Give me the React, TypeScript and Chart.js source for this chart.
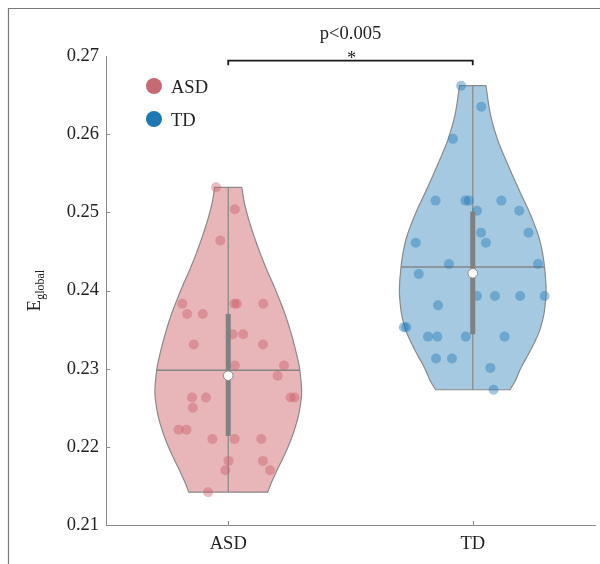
import React, { useEffect, useRef } from 'react';
import { Chart, registerables } from 'chart.js';

Chart.register(...registerables);

// ---------------- data ----------------
const CATEGORIES = ['ASD', 'TD'];
const Y_TICKS = [0.21, 0.22, 0.23, 0.24, 0.25, 0.26, 0.27];
const TITLE = 'p<0.005';
const SIG_MARK = '*';

// jittered scatter points: x offset from group centre (category units), value
const ASD_JITTER = [-0.05, 0.027, -0.0325, -0.188, -0.168, -0.104, 0.025, 0.035, 0.1435, 0.018, 0.061, -0.141, 0.142, 0.027, 0.228, 0.202, -0.148, -0.091, -0.145, 0.255, 0.271, -0.203, -0.171, -0.065, 0.026, 0.135, 0.001, 0.142, -0.012, 0.171, -0.0825];
const ASD_VALUES = [0.2532, 0.2504, 0.2464, 0.2383, 0.237, 0.237, 0.2383, 0.2383, 0.2383, 0.2344, 0.2344, 0.2331, 0.2331, 0.2304, 0.2304, 0.2291, 0.2263, 0.2263, 0.225, 0.2263, 0.2263, 0.2222, 0.2222, 0.221, 0.221, 0.221, 0.2182, 0.2182, 0.217, 0.217, 0.2142];

const TD_JITTER = [-0.0475, 0.035, -0.081, -0.152, -0.03, -0.016, 0.117, 0.0175, 0.19, 0.034, 0.228, 0.054, -0.233, -0.0975, 0.267, -0.221, 0.0175, 0.091, 0.194, 0.294, -0.142, -0.282, -0.272, -0.183, -0.145, -0.0285, 0.13, -0.15, -0.085, 0.072, 0.085];
const TD_VALUES = [0.2662, 0.2635, 0.2594, 0.2515, 0.2515, 0.2515, 0.2515, 0.2502, 0.2502, 0.2474, 0.2474, 0.2461, 0.2461, 0.2434, 0.2434, 0.2421, 0.2393, 0.2393, 0.2393, 0.2393, 0.2381, 0.2353, 0.2353, 0.2341, 0.2341, 0.2341, 0.2341, 0.2313, 0.2313, 0.2301, 0.2273];

// violin outline: value levels (top to bottom) and relative density (1 = widest)
const ASD_VIOLIN_LEVELS = [0.2532, 0.2515, 0.2498, 0.2464, 0.2434, 0.24, 0.2364, 0.2321, 0.2298, 0.227, 0.2247, 0.2221, 0.2196, 0.217, 0.2153, 0.2142];
const ASD_VIOLIN_DENSITY = [0.185, 0.214, 0.257, 0.372, 0.492, 0.648, 0.795, 0.925, 0.976, 1.0, 0.972, 0.9, 0.797, 0.665, 0.583, 0.538];
const TD_VIOLIN_LEVELS = [0.2662, 0.2628, 0.2594, 0.2565, 0.253, 0.2494, 0.246, 0.243, 0.24, 0.2377, 0.2352, 0.2326, 0.23, 0.2284, 0.2273];
const TD_VIOLIN_DENSITY = [0.18, 0.235, 0.335, 0.46, 0.625, 0.8, 0.925, 0.978, 1.0, 0.982, 0.923, 0.801, 0.652, 0.577, 0.507];

// summary statistics: [mean, median, q1, q3]
const ASD_STATS = [0.2298, 0.2291, 0.2214, 0.237];
const TD_STATS = [0.243, 0.2422, 0.2344, 0.2501];

// ---------------- styles ----------------
const FONT = '"Liberation Serif", "Times New Roman", serif';
const FONT_SIZE = 18.5;
const TEXT_COLOR = '#222222';
const AXIS_COLOR = '#8a8a8a';
const VIOLIN_HALF_WIDTH = 0.3; // x units at density 1
const BRACKET_VALUE = 0.2694;

const GROUPS = [
  {
    label: 'ASD', center: 0, jitter: ASD_JITTER, values: ASD_VALUES,
    levels: ASD_VIOLIN_LEVELS, density: ASD_VIOLIN_DENSITY, stats: ASD_STATS,
    fill: '#e8b5b9', point: 'rgba(200, 92, 106, 0.42)', legend: '#c76a74',
  },
  {
    label: 'TD', center: 1, jitter: TD_JITTER, values: TD_VALUES,
    levels: TD_VIOLIN_LEVELS, density: TD_VIOLIN_DENSITY, stats: TD_STATS,
    fill: '#a5c9e1', point: 'rgba(31, 119, 180, 0.42)', legend: '#1f77b4',
  },
];

// monotone cubic (Fritsch-Carlson) interpolation of density over value
function makeMonotone(xsIn: number[], ysIn: number[]) {
  const idx = xsIn.map((_, i) => i).sort((a, b) => xsIn[a] - xsIn[b]);
  const xs = idx.map((i) => xsIn[i]);
  const ys = idx.map((i) => ysIn[i]);
  const n = xs.length;
  const d: number[] = [];
  for (let i = 0; i < n - 1; i++) d.push((ys[i + 1] - ys[i]) / (xs[i + 1] - xs[i]));
  const m: number[] = new Array(n);
  m[0] = d[0];
  m[n - 1] = d[n - 2];
  for (let i = 1; i < n - 1; i++) {
    if (d[i - 1] * d[i] <= 0) m[i] = 0;
    else {
      const w1 = 2 * (xs[i + 1] - xs[i]) + (xs[i] - xs[i - 1]);
      const w2 = (xs[i + 1] - xs[i]) + 2 * (xs[i] - xs[i - 1]);
      m[i] = (w1 + w2) / (w1 / d[i - 1] + w2 / d[i]);
    }
  }
  return (x: number) => {
    if (x <= xs[0]) return ys[0];
    if (x >= xs[n - 1]) return ys[n - 1];
    let i = 0;
    while (i < n - 2 && x > xs[i + 1]) i++;
    const h = xs[i + 1] - xs[i];
    const t = (x - xs[i]) / h;
    const t2 = t * t, t3 = t2 * t;
    return (2 * t3 - 3 * t2 + 1) * ys[i] + (t3 - 2 * t2 + t) * h * m[i]
      + (-2 * t3 + 3 * t2) * ys[i + 1] + (t3 - t2) * h * m[i + 1];
  };
}

const violinPlugin = {
  id: 'violins',
  beforeDatasetsDraw(chart: any) {
    const { ctx } = chart;
    const xs = chart.scales.x;
    const ys = chart.scales.y;
    GROUPS.forEach((g) => {
      const f = makeMonotone(g.levels, g.density);
      const top = Math.max(...g.levels);
      const bot = Math.min(...g.levels);
      const N = 120;
      const samples: number[] = [];
      for (let k = 0; k <= N; k++) samples.push(top - (top - bot) * k / N);
      ctx.save();
      ctx.beginPath();
      samples.forEach((v, k) => {
        const px = xs.getPixelForValue(g.center + f(v) * VIOLIN_HALF_WIDTH);
        const py = ys.getPixelForValue(v);
        if (k === 0) ctx.moveTo(px, py); else ctx.lineTo(px, py);
      });
      for (let k = N; k >= 0; k--) {
        const v = samples[k];
        ctx.lineTo(xs.getPixelForValue(g.center - f(v) * VIOLIN_HALF_WIDTH), ys.getPixelForValue(v));
      }
      ctx.closePath();
      ctx.fillStyle = g.fill;
      ctx.fill();
      ctx.strokeStyle = AXIS_COLOR;
      ctx.lineWidth = 1.2;
      ctx.lineJoin = 'round';
      ctx.stroke();

      // centre vertical line
      const cx = xs.getPixelForValue(g.center);
      ctx.beginPath();
      ctx.moveTo(cx, ys.getPixelForValue(top));
      ctx.lineTo(cx, ys.getPixelForValue(bot));
      ctx.lineWidth = 1.3;
      ctx.strokeStyle = '#8c8c8c';
      ctx.stroke();

      // mean line across violin
      const mean = g.stats[0];
      const d = f(mean);
      const my = ys.getPixelForValue(mean);
      ctx.beginPath();
      ctx.moveTo(xs.getPixelForValue(g.center - d * VIOLIN_HALF_WIDTH), my);
      ctx.lineTo(xs.getPixelForValue(g.center + d * VIOLIN_HALF_WIDTH), my);
      ctx.lineWidth = 1.5;
      ctx.strokeStyle = '#858585';
      ctx.stroke();
      ctx.restore();
    });
  },
  afterDatasetsDraw(chart: any) {
    const { ctx } = chart;
    const xs = chart.scales.x;
    const ys = chart.scales.y;
    GROUPS.forEach((g) => {
      const cx = xs.getPixelForValue(g.center);
      ctx.save();
      ctx.fillStyle = '#808080';
      const yTop = ys.getPixelForValue(g.stats[3]);
      const yBot = ys.getPixelForValue(g.stats[2]);
      ctx.fillRect(cx - 2.5, yTop, 5, yBot - yTop);
      const myd = ys.getPixelForValue(g.stats[1]);
      ctx.beginPath();
      ctx.arc(cx, myd, 4.8, 0, Math.PI * 2);
      ctx.fillStyle = '#ffffff';
      ctx.fill();
      ctx.lineWidth = 1;
      ctx.strokeStyle = '#8a8a8a';
      ctx.stroke();
      ctx.restore();
    });
  },
  afterDraw(chart: any) {
    const { ctx, width, height } = chart;
    const xs = chart.scales.x;
    const ys = chart.scales.y;
    const area = chart.chartArea;
    ctx.save();
    // outer frame (left + top)
    ctx.strokeStyle = '#7a7a7a';
    ctx.lineWidth = 1.2;
    ctx.beginPath();
    ctx.moveTo(8.5, height);
    ctx.lineTo(8.5, 8.5);
    ctx.lineTo(width, 8.5);
    ctx.stroke();

    // inward tick marks
    ctx.strokeStyle = AXIS_COLOR;
    ctx.lineWidth = 1;
    Y_TICKS.slice(1, -1).forEach((v) => {
      const py = Math.round(ys.getPixelForValue(v)) + 0.5;
      ctx.beginPath();
      ctx.moveTo(area.left, py);
      ctx.lineTo(area.left + 4, py);
      ctx.stroke();
    });
    CATEGORIES.forEach((_, i) => {
      const px = Math.round(xs.getPixelForValue(i)) + 0.5;
      ctx.beginPath();
      ctx.moveTo(px, area.bottom);
      ctx.lineTo(px, area.bottom - 4);
      ctx.stroke();
    });

    // significance bracket
    const bx0 = xs.getPixelForValue(0);
    const bx1 = xs.getPixelForValue(1);
    const by = ys.getPixelForValue(BRACKET_VALUE);
    ctx.strokeStyle = '#1a1a1a';
    ctx.lineWidth = 1.8;
    ctx.beginPath();
    ctx.moveTo(bx0, by + 4.5);
    ctx.lineTo(bx0, by);
    ctx.lineTo(bx1, by);
    ctx.lineTo(bx1, by + 4.5);
    ctx.stroke();

    const midX = (bx0 + bx1) / 2;
    ctx.fillStyle = TEXT_COLOR;
    ctx.textAlign = 'center';
    ctx.textBaseline = 'alphabetic';
    ctx.font = `${FONT_SIZE}px ${FONT}`;
    ctx.fillText(TITLE, midX, by - 22);
    const sm = ctx.measureText(SIG_MARK);
    ctx.fillText(SIG_MARK, midX + 1, by - 6 + (sm.actualBoundingBoxAscent - sm.actualBoundingBoxDescent) / 2);

    // legend
    ctx.textAlign = 'left';
    GROUPS.forEach((g, i) => {
      const ly = 86 + i * 33;
      ctx.beginPath();
      ctx.arc(154, ly, 8, 0, Math.PI * 2);
      ctx.fillStyle = g.legend;
      ctx.fill();
      ctx.fillStyle = TEXT_COLOR;
      const m = ctx.measureText(g.label);
      ctx.fillText(g.label, 171, ly + (m.actualBoundingBoxAscent - m.actualBoundingBoxDescent) / 2);
    });

    // y-axis title with subscript
    ctx.translate(40, (area.top + area.bottom) / 2);
    ctx.rotate(-Math.PI / 2);
    ctx.font = `${FONT_SIZE}px ${FONT}`;
    const wE = ctx.measureText('E').width;
    ctx.font = `12px ${FONT}`;
    const wS = ctx.measureText('global').width;
    const start = -(wE + wS) / 2;
    ctx.font = `${FONT_SIZE}px ${FONT}`;
    ctx.fillText('E', start, 0);
    ctx.font = `12px ${FONT}`;
    ctx.fillText('global', start + wE, 3.5);
    ctx.restore();
  },
};

export default function App() {
  const ref = useRef<HTMLCanvasElement | null>(null);
  useEffect(() => {
    if (!ref.current) return;
    const datasets = GROUPS.map((g) => ({
      label: g.label,
      data: g.values.map((v, i) => ({ x: g.center + g.jitter[i], y: v })),
      backgroundColor: g.point,
      borderWidth: 0,
      pointRadius: 5,
    }));
    const chart = new Chart(ref.current, {
      type: 'scatter',
      data: { datasets },
      options: {
        animation: false,
        responsive: false,
        devicePixelRatio: 1,
        layout: { padding: { left: 0, right: 2, top: 56, bottom: 0 } },
        plugins: { legend: { display: false }, tooltip: { enabled: false } },
        scales: {
          x: {
            type: 'linear',
            min: -0.5,
            max: 1.5,
            afterBuildTicks: (s: any) => { s.ticks = CATEGORIES.map((_, i) => ({ value: i })); },
            afterFit: (s: any) => { s.height = 39; },
            ticks: {
              callback: (v: any) => CATEGORIES[v] ?? '',
              font: { family: FONT, size: FONT_SIZE },
              color: TEXT_COLOR,
              padding: 8,
              maxRotation: 0,
              autoSkip: false,
            },
            grid: { display: false, drawTicks: false },
            border: { display: true, color: AXIS_COLOR, width: 1 },
          },
          y: {
            type: 'linear',
            min: 0.21,
            max: 0.27,
            afterBuildTicks: (s: any) => { s.ticks = Y_TICKS.map((v) => ({ value: v })); },
            afterFit: (s: any) => { s.width = 106; },
            ticks: {
              callback: (v: any) => Number(v).toFixed(2),
              font: { family: FONT, size: FONT_SIZE },
              color: TEXT_COLOR,
              padding: 7,
            },
            grid: { display: false, drawTicks: false },
            border: { display: true, color: AXIS_COLOR, width: 1 },
          },
        },
      },
      plugins: [violinPlugin],
    });
    return () => chart.destroy();
  }, []);
  return (
    <div style={{ position: 'absolute', left: 0, top: 0, width: 600, height: 564, background: '#ffffff' }}>
      <canvas ref={ref} width={600} height={564} style={{ display: 'block' }} />
    </div>
  );
}
